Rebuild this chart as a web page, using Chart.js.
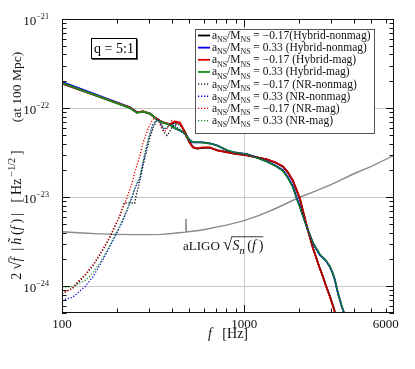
<!DOCTYPE html>
<html>
<head>
<meta charset="utf-8">
<script src="https://cdn.jsdelivr.net/npm/chart.js@4.4.1/dist/chart.umd.min.js"></script>
<style>
html, body { margin: 0; padding: 0; background: #fff; }
</style>
</head>
<body>
<canvas id="asdChart" width="415" height="369"></canvas>
<script>
// frequencies [Hz] of the hybrid curves
var hybFreq = [100, 236, 258, 278, 304, 328, 358, 391, 417, 444, 473, 504, 523, 550, 594, 648, 709, 804, 867,
	1035, 1174, 1332, 1474, 1631, 1736, 1850, 1945, 2021, 2099, 2153, 2236, 2293, 2382, 2505, 2602, 2703, 2807,
	2952, 3066, 3145, 3266, 3350, 3435, 3524, 3614];

var hybBlackNonmag = [1.88e-22, 1.01e-22, 8.91e-23, 9.14e-23, 8.68e-23, 7.63e-23, 6.89e-23, 6.54e-23,
	6.9e-23, 6.8e-23, 5.4e-23, 4.1e-23, 3.65e-23, 3.5e-23, 3.58e-23, 3.6e-23, 3.38e-23, 3.2e-23, 3.1e-23,
	2.95e-23, 2.8e-23, 2.65e-23, 2.46e-23, 2.2e-23, 1.9e-23, 1.53e-23, 1.18e-23, 9.6e-24, 7.1e-24, 5.8e-24,
	4.3e-24, 3.6e-24, 2.72e-24, 2.0e-24, 1.6e-24, 1.3e-24, 1.03e-24, 7.8e-25, 6.2e-25, 5.2e-25, 4.1e-25,
	3.6e-25, 3.1e-25, 2.7e-25, 2.3e-25];
var hybBlueNonmag = [1.97e-22, 1.02e-22, 8.95e-23, 9.1e-23, 8.7e-23, 7.6e-23, 6.9e-23, 6.5e-23,
	5.9e-23, 5.61e-23, 5.19e-23, 4.34e-23, 4.12e-23, 4.12e-23, 4.12e-23, 4.02e-23, 3.82e-23, 3.35e-23, 3.19e-23,
	3.03e-23, 2.8e-23, 2.53e-23, 2.28e-23, 2.01e-23, 1.68e-23, 1.33e-23, 9.77e-24, 7.96e-24, 6.31e-24, 5.41e-24,
	4.29e-24, 3.78e-24, 3.07e-24, 2.57e-24, 2.26e-24, 2.09e-24, 1.94e-24, 1.66e-24, 1.39e-24, 1.19e-24, 8.51e-25,
	7.11e-25, 5.93e-25, 5.09e-25, 4.2e-25];
var hybRedMag = [1.90e-22, 1.01e-22, 8.9e-23, 9.2e-23, 8.6e-23, 7.65e-23, 6.9e-23, 6.6e-23,
	7.07e-23, 6.89e-23, 5.33e-23, 4.02e-23, 3.62e-23, 3.53e-23, 3.62e-23, 3.62e-23, 3.35e-23, 3.19e-23, 3.11e-23,
	2.95e-23, 2.8e-23, 2.66e-23, 2.47e-23, 2.22e-23, 1.91e-23, 1.55e-23, 1.2e-23, 9.77e-24, 7.18e-24, 5.84e-24,
	4.29e-24, 3.59e-24, 2.7e-24, 1.99e-24, 1.58e-24, 1.28e-24, 1.02e-24, 7.67e-25, 6.09e-25, 5.09e-25, 4.0e-25,
	3.5e-25, 3.0e-25, 2.6e-25, 2.2e-25];
var hybGreenMag = [1.92e-22, 1.0e-22, 8.85e-23, 9.1e-23, 8.7e-23, 7.6e-23, 6.85e-23, 6.5e-23,
	5.95e-23, 5.65e-23, 5.2e-23, 4.3e-23, 4.15e-23, 4.15e-23, 4.1e-23, 4.0e-23, 3.8e-23, 3.37e-23, 3.2e-23,
	3.02e-23, 2.78e-23, 2.5e-23, 2.26e-23, 1.98e-23, 1.65e-23, 1.3e-23, 9.6e-24, 7.8e-24, 6.2e-24, 5.35e-24,
	4.3e-24, 3.8e-24, 3.1e-24, 2.6e-24, 2.28e-24, 2.1e-24, 1.95e-24, 1.68e-24, 1.4e-24, 1.2e-24, 8.6e-25,
	7.2e-25, 6.0e-25, 5.1e-25, 4.3e-25];

// NR curves below 505 Hz (above that they follow the hybrids)
var nrFreqLow = [100, 114, 121, 134, 148, 162, 183, 195, 208, 219, 227, 236, 245, 251, 255, 268, 278, 293, 304,
	316, 328, 336, 345, 358, 367, 377, 391, 401, 417, 427, 444, 461, 473, 491, 504];
var nrBlackNonmag = [8.29e-25, 9.43e-25, 1.07e-24, 1.32e-24, 1.7e-24, 2.26e-24, 3.5e-24, 4.64e-24, 6.15e-24,
	8.59e-24, 8.59e-24, 8.59e-24, 8.59e-24, 8.59e-24, 1.03e-23, 1.55e-23, 2.22e-23, 3.44e-23, 4.69e-23, 5.9e-23,
	7.07e-23, 7.44e-23, 6.89e-23, 5.75e-23, 5.19e-23, 4.93e-23, 5.47e-23, 6.06e-23, 6.54e-23, 6.54e-23, 6.54e-23,
	5.75e-23, 5.19e-23, 4.34e-23, 4.02e-23];
var nrBlueNonmag = [6.93e-25, 7.48e-25, 8.29e-25, 9.92e-25, 1.28e-24, 1.75e-24, 2.77e-24, 3.59e-24, 4.64e-24,
	5.84e-24, 7.0e-24, 8.59e-24, 1.055e-23, 1.23e-23, 1.33e-23, 1.63e-23, 2.4e-23, 3.82e-23, 5.19e-23, 6.54e-23,
	7.25e-23, 7.44e-23, 6.89e-23, 6.06e-23, 5.75e-23, 6.06e-23, 6.54e-23, 6.71e-23, 6.38e-23, 6.06e-23, 5.61e-23,
	5.33e-23, 5.06e-23, 4.45e-23, 4.23e-23];
var nrRedMag = [8.29e-25, 9.43e-25, 1.1e-24, 1.35e-24, 1.75e-24, 2.32e-24, 3.59e-24, 4.76e-24, 6.31e-24,
	8.16e-24, 9.77e-24, 1.23e-23, 1.55e-23, 1.91e-23, 2.11e-23, 2.95e-23, 4.02e-23, 5.47e-23, 6.54e-23, 7.44e-23,
	7.83e-23, 7.63e-23, 6.54e-23, 5.61e-23, 5.47e-23, 5.9e-23, 6.54e-23, 7.25e-23, 7.07e-23, 6.71e-23, 6.71e-23,
	5.9e-23, 5.19e-23, 4.45e-23, 4.02e-23];
var nrGreenMag = [9.67e-25, 9.92e-25, 1.045e-24, 1.16e-24, 1.42e-24, 1.84e-24, 2.85e-24, 3.68e-24, 4.76e-24,
	6.0e-24, 7.18e-24, 8.82e-24, 1.08e-23, 1.26e-23, 1.36e-23, 1.72e-23, 2.46e-23, 3.91e-23, 5.19e-23, 6.38e-23,
	7.07e-23, 7.25e-23, 6.89e-23, 6.22e-23, 5.9e-23, 6.06e-23, 6.38e-23, 6.54e-23, 6.22e-23, 6.06e-23, 5.61e-23,
	5.33e-23, 5.06e-23, 4.45e-23, 4.23e-23];

// aLIGO noise curve
var ligoFreq = [100, 130, 160, 200, 250, 300, 350, 400, 450, 476, 479, 482, 550, 600, 700, 800, 1000, 1200,
	1500, 2000, 2500, 3000, 4000, 5000, 6650];
var ligoAsd = [4.08e-24, 3.95e-24, 3.87e-24, 3.82e-24, 3.79e-24, 3.79e-24, 3.82e-24, 3.9e-24, 4.0e-24, 4.05e-24,
	5.7e-24, 4.06e-24, 4.2e-24, 4.3e-24, 4.6e-24, 4.85e-24, 5.45e-24, 6.2e-24, 7.5e-24, 9.9e-24, 1.18e-23,
	1.38e-23, 1.83e-23, 2.22e-23, 2.95e-23];

var legendSpins = ['\u22120.17', '0.33', '\u22120.17', '0.33', '\u22120.17', '0.33', '\u22120.17', '0.33'];
var legendTags = ['(Hybrid-nonmag)', ' (Hybrid-nonmag)', ' (Hybrid-mag)', ' (Hybrid-mag)',
	' (NR-nonmag)', ' (NR-nonmag)', ' (NR-mag)', ' (NR-mag)'];
var xTickVals = [100, 1000, 6000];
var yTickExps = [-24, -23, -22, -21];

var FONT = "'Liberation Serif', 'DejaVu Serif', serif";
var colBlack = '#000000', colBlue = '#0000e6', colRed = '#e60000', colGreen = '#1a8c1a';

function pts(fr, val) {
	var out = [];
	for (var i = 0; i < fr.length; i++) out.push({x: fr[i], y: val[i]});
	return out;
}
// NR series: own low-frequency part, hybrid part above 505 Hz
function nrPts(low, hyb) {
	return pts(nrFreqLow.concat(hybFreq.slice(12)), low.concat(hyb.slice(12)));
}

// text with italic / sub / sup / overline pieces; a piece may carry its own size
function rich(ctx, segs, x, y, size, align, overY) {
	var parts = [], total = 0;
	segs.forEach(function(s) {
		var st = s[1] || '';
		var small = st.indexOf('b') >= 0 || st.indexOf('p') >= 0;
		var base = s[2] || size;
		var fs = small ? base * 0.68 : base;
		var font = (st.indexOf('i') >= 0 ? 'italic ' : '') + fs + 'px ' + FONT;
		ctx.font = font;
		var w = ctx.measureText(s[0]).width;
		var dy = st.indexOf('b') >= 0 ? size * 0.28 : (st.indexOf('p') >= 0 ? -size * 0.45 : 0);
		parts.push({t: s[0], font: font, w: w, dy: dy, over: st.indexOf('o') >= 0});
		total += w;
	});
	var cx = align === 'center' ? x - total / 2 : (align === 'right' ? x - total : x);
	var oy = overY || size * 0.85;
	ctx.textBaseline = 'alphabetic';
	ctx.textAlign = 'left';
	parts.forEach(function(p) {
		ctx.font = p.font;
		ctx.fillText(p.t, cx, y + p.dy);
		if (p.over) {
			ctx.fillRect(cx - 0.5, y - oy, p.w + 0.5, 0.8);
		}
		cx += p.w;
	});
	return total;
}

var decor = {
	id: 'decor',
	afterDraw: function(chart) {
		var ctx = chart.ctx, a = chart.chartArea, xs = chart.scales.x, ys = chart.scales.y;
		ctx.save();
		// frame
		ctx.strokeStyle = '#111';
		ctx.lineWidth = 1;
		ctx.strokeRect(a.left + 0.5, a.top + 0.5, a.right - a.left - 1, a.bottom - a.top - 1);

		// tick marks inside the frame
		ctx.beginPath();
		[100, 1000].forEach(function(d) {
			for (var k = 1; k <= 9; k++) {
				var v = d * k;
				if (v > xs.max) break;
				var px = Math.round(xs.getPixelForValue(v)) + 0.5;
				var len = k === 1 ? 8 : 4.5;
				ctx.moveTo(px, a.bottom); ctx.lineTo(px, a.bottom - len);
				ctx.moveTo(px, a.top); ctx.lineTo(px, a.top + len);
			}
		});
		[-25, -24, -23, -22].forEach(function(e) {
			for (var k = 1; k <= 9; k++) {
				var v = k * Math.pow(10, e);
				if (v < ys.min || v > ys.max) continue;
				var py = Math.round(ys.getPixelForValue(v)) + 0.5;
				var len = k === 1 ? 8 : 4.5;
				ctx.moveTo(a.left, py); ctx.lineTo(a.left + len, py);
				ctx.moveTo(a.right, py); ctx.lineTo(a.right - len, py);
			}
		});
		ctx.stroke();

		// y tick labels 10^n
		ctx.fillStyle = '#111';
		yTickExps.forEach(function(e) {
			var py = ys.getPixelForValue(Math.pow(10, e));
			rich(ctx, [['10', ''], ['\u2212' + (-e), 'p', 12]], 49, py + 5.5, 13, 'right');
		});

		// axis titles
		rich(ctx, [['f', 'i', 14], ['   [Hz]', '', 14]], (a.left + a.right) / 2, 338, 14, 'center');
		ctx.save();
		ctx.translate(21, 0);
		ctx.rotate(-Math.PI / 2);
		rich(ctx, [['2', ''], ['\u2009\u221a', '', 15], ['f', 'io'], ['\u2009 |\u2009', '', 15], ['h\u0303', 'i'],
			['\u2009(', ''], ['f', 'i'], ['\u2009)', ''], ['\u2009|', '', 15], ['   [\u2009Hz', ''],
			['\u2009\u22121/2', 'p', 15], ['\u2009]', '']], -215, 0, 14, 'center', 12.5);
		rich(ctx, [['(at 100 Mpc)', '']], -87, 0, 13.5, 'center');
		ctx.restore();

		// q box
		ctx.fillStyle = '#555';
		ctx.fillRect(92, 39, 46, 21);
		ctx.fillStyle = '#fff';
		ctx.fillRect(91, 38, 45, 20);
		ctx.strokeStyle = '#000';
		ctx.strokeRect(91.5, 38.5, 45, 20);
		ctx.fillStyle = '#000';
		rich(ctx, [['q = 5:1', '']], 114, 53, 14, 'center');

		// aLIGO label
		ctx.fillStyle = '#111';
		var w = rich(ctx, [['aLIGO ', '']], 183, 250, 13, 'left');
		rich(ctx, [['\u221a', '', 17], ['S', 'io', 14], ['n', 'iob', 15], ['\u2009(', 'o', 14], ['f', 'io', 14],
			['\u2009)', 'o', 14]], 183 + w, 250, 13, 'left', 13.6);

		// legend
		var lx = 195, ly = 29, lw = 179, lh = 104;
		ctx.fillStyle = '#fff';
		ctx.fillRect(lx, ly, lw, lh);
		ctx.strokeStyle = '#555';
		ctx.lineWidth = 1;
		ctx.strokeRect(lx + 0.5, ly + 0.5, lw, lh);
		chart.data.datasets.forEach(function(ds, i) {
			if (i >= legendSpins.length) return;
			var ry = ly + 6.5 + i * 12.15;
			ctx.strokeStyle = ds.borderColor;
			ctx.lineWidth = ds.borderWidth;
			ctx.setLineDash(ds.borderDash || []);
			ctx.beginPath();
			ctx.moveTo(lx + 3, ry); ctx.lineTo(lx + 15, ry);
			ctx.stroke();
			ctx.setLineDash([]);
			ctx.fillStyle = '#111';
			rich(ctx, [['a', ''], ['NS', 'b'], ['/M', ''], ['NS', 'b'], [' = ' + legendSpins[i], ''], [legendTags[i], '']],
				lx + 17, ry + 3.5, 11.5, 'left');
		});
		ctx.restore();
	}
};

function solid(label, data, color, order) {
	return {label: label, data: data, borderColor: color, borderWidth: 1.8, pointRadius: 0, order: order, fill: false};
}
function dotted(label, data, color, order) {
	return {label: label, data: data, borderColor: color, borderWidth: 1.3, borderDash: [1.2, 1.8],
		pointRadius: 0, order: order, fill: false};
}

var ctxC = document.getElementById('asdChart').getContext('2d');
var chart = new Chart(ctxC, {
	type: 'line',
	data: {
		datasets: [
			solid('Hybrid-nonmag -0.17', pts(hybFreq, hybBlackNonmag), colBlack, 8),
			solid('Hybrid-nonmag 0.33', pts(hybFreq, hybBlueNonmag), colBlue, 7),
			solid('Hybrid-mag -0.17', pts(hybFreq, hybRedMag), colRed, 6),
			solid('Hybrid-mag 0.33', pts(hybFreq, hybGreenMag), colGreen, 5),
			dotted('NR-nonmag -0.17', nrPts(nrBlackNonmag, hybBlackNonmag), colBlack, 4),
			dotted('NR-nonmag 0.33', nrPts(nrBlueNonmag, hybBlueNonmag), colBlue, 3),
			dotted('NR-mag -0.17', nrPts(nrRedMag, hybRedMag), colRed, 2),
			dotted('NR-mag 0.33', nrPts(nrGreenMag, hybGreenMag), colGreen, 1),
			{label: 'aLIGO', data: pts(ligoFreq, ligoAsd), borderColor: '#8a8a8a', borderWidth: 1.4,
				pointRadius: 0, order: 9, fill: false}
		]
	},
	options: {
		responsive: false,
		animation: false,
		devicePixelRatio: 1,
		layout: {padding: {top: 19, right: 21, left: 0, bottom: 0}},
		plugins: {legend: {display: false}, tooltip: {enabled: false}},
		scales: {
			x: {
				type: 'logarithmic', min: 100, max: 6650,
				afterBuildTicks: function(s) { s.ticks = xTickVals.map(function(v) { return {value: v}; }); },
				afterFit: function(s) { s.height = 56; },
				ticks: {
					autoSkip: false, maxRotation: 0, padding: 4, color: '#111',
					font: {family: FONT, size: 13},
					callback: function(v) { return String(v); }
				},
				grid: {
					drawTicks: false,
					color: function(c) { return c.tick && c.tick.value === 1000 ? '#c8c8c8' : 'rgba(0,0,0,0)'; }
				},
				border: {display: false}
			},
			y: {
				type: 'logarithmic', min: 5e-25, max: 1e-21,
				afterBuildTicks: function(s) { s.ticks = yTickExps.map(function(e) { return {value: Math.pow(10, e)}; }); },
				afterFit: function(s) { s.width = 62; },
				ticks: {display: false},
				grid: {
					drawTicks: false,
					color: function(c) { return c.tick && c.tick.value < 5e-22 ? '#c8c8c8' : 'rgba(0,0,0,0)'; }
				},
				border: {display: false}
			}
		}
	},
	plugins: [decor]
});
</script>
</body>
</html>
